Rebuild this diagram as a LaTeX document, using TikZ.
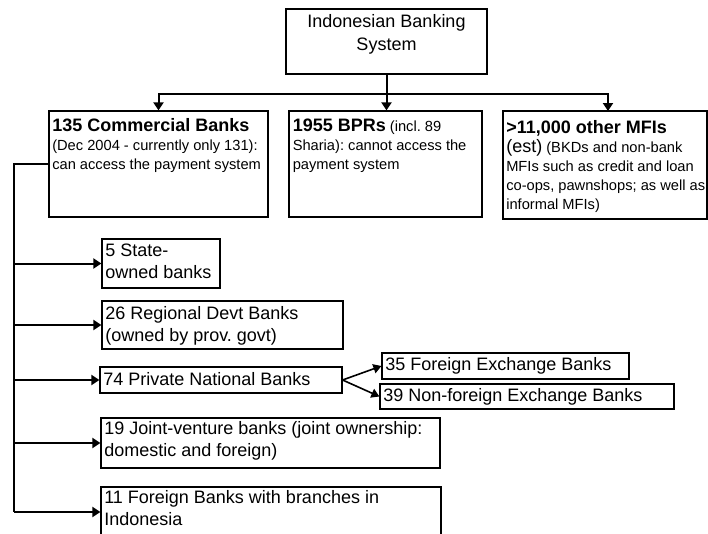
\documentclass[tikz,border=0pt]{standalone}
\usepackage{fontspec}
\setmainfont{Liberation Sans}
\usetikzlibrary{arrows.meta,fit}
\newcommand\fhd{\fontsize{13.5pt}{17.25pt}\selectfont}
\newcommand\fsm{\fontsize{11pt}{14.25pt}\selectfont}
\newcommand\fsmb{\fontsize{11pt}{14.4pt}\selectfont}
\newcommand\fmd{\fontsize{13.5pt}{16.9pt}\selectfont}
\frenchspacing
\begin{document}
\frenchspacing
\begin{tikzpicture}[x=0.75pt,y=-0.75pt,
  box/.style={draw,line width=0.9pt,inner sep=0pt,fill=white},
  txt/.style={anchor=base west,inner sep=0pt,execute at begin node=\frenchspacing},
  conn/.style={line width=1.5pt},
  arr/.style={conn,-{Triangle[length=6pt,width=7.5pt]}},
  arrthin/.style={line width=1.2pt,-{Triangle[length=6pt,width=7pt]}}]
\useasboundingbox (0,0) rectangle (708,533);
\fill[white] (0,0) rectangle (708,533);
% boxes
\node[box,fit={(286,9) (487,74)}] (b0) {};
\node[box,fit={(49,111) (268,217)}] (b1) {};
\node[box,fit={(289,111) (482,217)}] (b2) {};
\node[box,fit={(503,111) (707,219)}] (b3) {};
\node[box,fit={(102,239) (220,288)}] (b4) {};
\node[box,fit={(102,301) (343,349)}] (b5) {};
\node[box,fit={(100,367) (342,393)}] (b6) {};
\node[box,fit={(101,418) (440,468)}] (b7) {};
\node[box,fit={(101,487) (441,537)}] (b8) {};
\node[box,fit={(382,353) (629,379)}] (b9) {};
\node[box,fit={(380,384) (674,409)}] (b10) {};
% texts
\node[anchor=base,inner sep=0pt] (t0) at (386.5,27) {\parbox[t]{160pt}{\centering\fhd Indonesian Banking\\System}};
\node[txt] (t1) at (52,131) {\parbox[t]{200pt}{\fsm{\fhd\bfseries 135 Commercial Banks}\\(Dec 2004 - currently only 131):\\can access the payment system}};
\node[txt] (t2) at (292.5,131) {\parbox[t]{200pt}{\fsm{\fhd\bfseries 1955 BPRs} (incl. 89\\Sharia): cannot access the\\payment system}};
\node[txt] (t3) at (506,133) {\parbox[t]{200pt}{\fsmb{\fhd\bfseries >11,000 other MFIs}\\{\fhd (est)} (BKDs and non-bank\\MFIs such as credit and loan\\co-ops, pawnshops; as well as\\informal MFIs)}};
\node[txt] (t4) at (105,256) {\parbox[t]{200pt}{\fmd 5 State-\\owned banks}};
\node[txt] (t5) at (105,319) {\parbox[t]{250pt}{\fmd 26 Regional Devt Banks\\(owned by prov. govt)}};
\node[txt] (t6) at (103,385) {\parbox[t]{250pt}{\fmd 74 Private National Banks}};
\node[txt] (t7) at (104,434) {\parbox[t]{300pt}{\fmd 19 Joint-venture banks (joint ownership:\\domestic and foreign)}};
\node[txt] (t8) at (104,503) {\parbox[t]{300pt}{\fmd 11 Foreign Banks with branches in\\Indonesia}};
\node[txt] (t9) at (385,370) {\parbox[t]{250pt}{\fmd 35 Foreign Exchange Banks}};
\node[txt] (t10) at (383,401) {\parbox[t]{250pt}{\fmd 39 Non-foreign Exchange Banks}};
% top connectors
\coordinate (a3) at (608,111);
\draw[arr] (b0.south) -- ++(0,19) -| (b1.north);
\draw[arr] (b0.south) -- ++(0,19) -| (a3);
\draw[arr] (b0.south) -- (b0.south |- b2.north);
% left spine
\coordinate (sp) at (14,164);
\draw[conn] (b1.west) -- (sp) -- (sp |- b8.west);
\draw[arr] (sp |- b4.west) -- (b4.west);
\draw[arr] (sp |- b5.west) -- (b5.west);
\draw[arr] (sp |- b6.west) -- (b6.west);
\draw[arr] (sp |- b7.west) -- (b7.west);
\draw[arr] (sp |- b8.west) -- (b8.west);
% fork
\draw[arrthin] (b6.east) -- (b9.west);
\draw[arrthin] (b6.east) -- (b10.west);
\end{tikzpicture}
\end{document}
